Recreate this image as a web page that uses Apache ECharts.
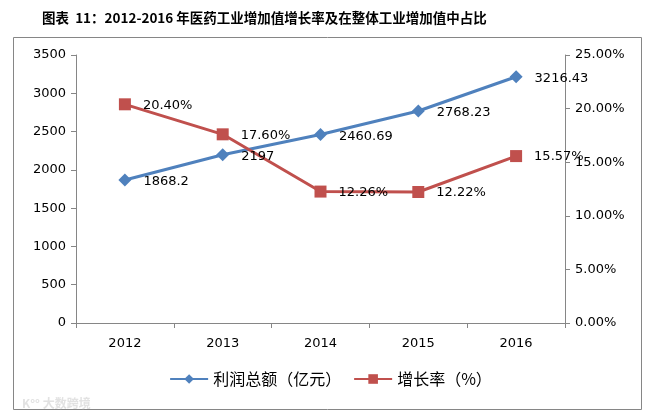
<!DOCTYPE html>
<html><head><meta charset="utf-8">
<script src="https://cdn.jsdelivr.net/npm/echarts@6/dist/echarts.min.js"></script>
<style>html,body{margin:0;padding:0;background:#fff}#c{width:661px;height:419px}</style>
</head><body><div id="c"></div>
<script>
var categories = ['2012','2013','2014','2015','2016'];
var profit = [1868.2, 2197, 2460.69, 2768.23, 3216.43];
var growth = [20.40, 17.60, 12.26, 12.22, 15.57];
var leftTicks = [0, 500, 1000, 1500, 2000, 2500, 3000, 3500];
var rightTicks = [0, 5, 10, 15, 20, 25];

var font = '"DejaVu Sans", "Noto Sans CJK SC", sans-serif';
var axisCol = '#868686';
var chart = echarts.init(document.getElementById('c'));
chart.setOption({
  animation: false,
  title: {
    text: '图表  11：2012-2016 年医药工业增加值增长率及在整体工业增加值中占比',
    left: 37, top: 6,
    textStyle: {fontFamily: '"Noto Sans CJK SC", sans-serif', fontSize: 13.5, fontWeight: 'bold', color: '#000'}
  },
  graphic: [
    {type: 'rect', shape: {x: 13.5, y: 37.5, width: 628, height: 372}, style: {fill: null, stroke: '#868686', lineWidth: 1}, z: -1},
    {type: 'text', left: 22, top: 397, style: {text: 'K°° 大数跨境', fill: '#e2e2e2', font: 'bold 12px "Noto Sans CJK SC"'}}
  ],
  legend: {
    bottom: 27, left: 'center',
    itemWidth: 38, itemHeight: 12, itemGap: 12,
    textStyle: {fontFamily: '"Noto Sans CJK SC", sans-serif', fontSize: 16, color: '#000'},
    data: ['利润总额（亿元）', '增长率（%）']
  },
  grid: {left: 76, right: 96, top: 55, bottom: 96},
  xAxis: {
    type: 'category', data: categories, boundaryGap: true,
    axisLine: {lineStyle: {color: axisCol}},
    axisTick: {show: true, length: 5, lineStyle: {color: axisCol}},
    axisLabel: {color: '#000', fontSize: 13, fontFamily: font, margin: 14}
  },
  yAxis: [
    {type: 'value', min: 0, max: 3500, interval: 500, position: 'left',
     axisLine: {show: true, lineStyle: {color: axisCol}},
     axisTick: {show: true, length: 5, lineStyle: {color: axisCol}},
     splitLine: {show: false},
     axisLabel: {color: '#000', fontSize: 13, fontFamily: font, margin: 10,
       formatter: function(v){return String(v);}}},
    {type: 'value', min: 0, max: 25, interval: 5, position: 'right',
     axisLine: {show: true, lineStyle: {color: axisCol}},
     axisTick: {show: true, length: 5, lineStyle: {color: axisCol}},
     splitLine: {show: false},
     axisLabel: {color: '#000', fontSize: 13, fontFamily: font, margin: 10,
       formatter: function(v){return v.toFixed(2) + '%';}}}
  ],
  series: [
    {name: '利润总额（亿元）', type: 'line', yAxisIndex: 0, data: profit,
     symbol: 'diamond', symbolSize: 13,
     itemStyle: {color: '#4F81BD'}, lineStyle: {color: '#4F81BD', width: 3},
     label: {show: true, position: 'right', distance: 12, offset: [0, 2], color: '#000', fontSize: 13, fontFamily: font,
       formatter: function(p){return String(p.value);}}},
    {name: '增长率（%）', type: 'line', yAxisIndex: 1, data: growth,
     symbol: 'rect', symbolSize: 12,
     itemStyle: {color: '#C0504D'}, lineStyle: {color: '#C0504D', width: 3},
     label: {show: true, position: 'right', distance: 12, offset: [0, 1], color: '#000', fontSize: 13, fontFamily: font,
       formatter: function(p){return p.value.toFixed(2) + '%';}}}
  ]
});
</script></body></html>
